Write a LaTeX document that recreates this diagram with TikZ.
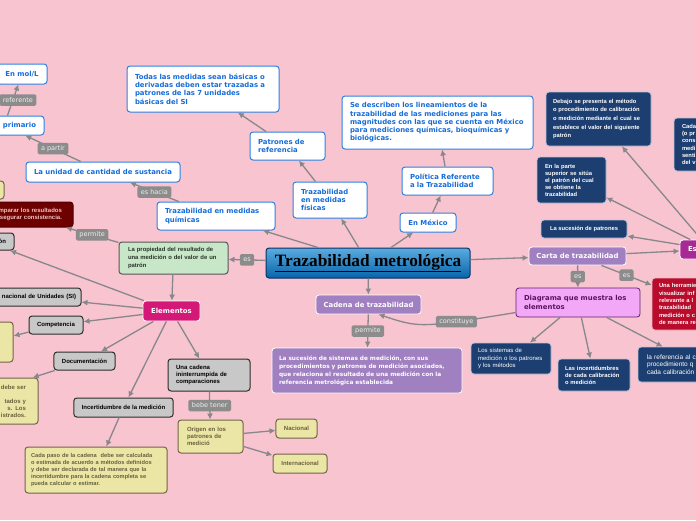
\documentclass[tikz,border=0pt]{standalone}
\usepackage{fontspec}
\setmainfont{DejaVu Sans}
\newfontfamily\verd{DejaVu Sans}
\newfontfamily\arl{Liberation Sans}
\newfontfamily\tms{Liberation Serif}
\usepackage{xcolor}
\usepackage{tikz}
\usetikzlibrary{arrows.meta}
\hyphenpenalty=10000
\exhyphenpenalty=10000
\definecolor{pinkbg}{RGB}{248,196,208}
\definecolor{ideablue}{RGB}{22,108,218}
\definecolor{ideaborder}{RGB}{45,128,225}
\definecolor{lblgrey}{RGB}{140,140,140}
\definecolor{lbltext}{RGB}{238,238,238}
\definecolor{linegrey}{RGB}{135,135,140}
\definecolor{navyfill}{RGB}{28,62,112}
\definecolor{navyline}{RGB}{185,195,215}
\definecolor{greyfill}{RGB}{200,200,200}
\definecolor{boxline}{RGB}{45,45,45}
\definecolor{yelfill}{RGB}{236,230,166}
\definecolor{yelline}{RGB}{112,102,72}
\definecolor{yeltext}{RGB}{105,96,62}
\definecolor{topicpurple}{RGB}{160,128,192}
\definecolor{elemmag}{RGB}{212,24,120}
\definecolor{esmag}{RGB}{168,40,150}
\definecolor{greenfill}{RGB}{200,230,200}
\definecolor{greentext}{RGB}{40,52,40}
\definecolor{darkred}{RGB}{110,0,0}
\definecolor{darkredtext}{RGB}{240,196,196}
\definecolor{brightred}{RGB}{185,12,45}
\definecolor{diagfill}{RGB}{242,168,246}
\definecolor{diagline}{RGB}{100,30,110}
\definecolor{diagtext}{RGB}{90,20,100}
\definecolor{centretop}{RGB}{90,172,225}
\definecolor{centrebot}{RGB}{8,100,168}
\definecolor{centreline}{RGB}{10,50,100}

\begin{document}
\begin{tikzpicture}[x=1pt, y=-1pt,
    idea/.style={rectangle, rounded corners=3pt, draw=ideaborder, line width=1pt, fill=white, text=ideablue, font=\verd\bfseries\fontsize{6.9}{8.3}\selectfont, align=left, inner xsep=8pt, inner ysep=2pt},
    topic/.style={rectangle, rounded corners=3pt, draw=white, line width=0.8pt, fill=topicpurple, text=white, font=\verd\bfseries\fontsize{6.9}{8.3}\selectfont, align=left, inner xsep=7pt, inner ysep=2pt},
    magbox/.style={topic, fill=elemmag},
    diagbox/.style={topic, draw=diagline, fill=diagfill, text=diagtext, inner xsep=8pt},
    greybox/.style={rectangle, rounded corners=3pt, draw=boxline, line width=1pt, fill=greyfill, text=black, font=\arl\bfseries\fontsize{6}{7}\selectfont, align=left, inner xsep=8pt, inner ysep=2pt},
    greenbox/.style={greybox, draw=boxline!80, fill=greenfill, text=greentext, font=\arl\bfseries\fontsize{5.9}{7.7}\selectfont, inner xsep=9pt},
    yellowbox/.style={greybox, draw=yelline, fill=yelfill, text=yeltext},
    navybox/.style={rectangle, rounded corners=3pt, draw=navyline, line width=0.8pt, fill=navyfill, text=white, font=\arl\bfseries\fontsize{5.8}{7}\selectfont, align=left, inner xsep=8pt, inner ysep=2pt},
    redbox/.style={navybox, draw=white!70!brightred, fill=brightred, text=white!88!pink},
    lbl/.style={rectangle, rounded corners=1.5pt, fill=lblgrey, text=lbltext, font=\verd\fontsize{6.5}{7}\selectfont, inner xsep=3.5pt, inner ysep=1pt, minimum height=11.5pt},
    arrow/.style={-{Latex[length=6pt,width=6pt]}, line width=1.3pt, linegrey}
]
\useasboundingbox (0,0) rectangle (696,520);
\clip (0,0) rectangle (696,520);
\fill[pinkbg] (0,0) rectangle (696,520);

% Central topic
\node[rectangle, rounded corners=3pt, draw=centreline, line width=1pt, top color=centretop, bottom color=centrebot, minimum width=204pt, minimum height=30pt, inner sep=2pt, font=\tms\bfseries\fontsize{17.3}{19}\selectfont] (centro) at (368,263) {\underline{Trazabilidad metrológica}};

% Upper branch
\node[idea, minimum width=50pt, minimum height=20pt] (mol) at (22,74) {En mol/L};
\node[idea, text width=64pt, align=right, minimum height=19pt] (primario) at (4,125.5) {primario};
\node[idea, minimum width=154pt, minimum height=20pt] (unidad) at (103,172) {La unidad de cantidad de sustancia};
\node[idea, text width=102pt, minimum height=28pt] (quimicas) at (216,216) {Trazabilidad en medidas\\químicas};
\node[idea, text width=136pt, minimum height=46pt] (todas) at (203,89) {Todas las medidas sean básicas o\\derivadas deben estar trazadas a\\patrones de las 7 unidades\\básicas del SI};
\node[idea, text width=59pt, minimum height=28pt] (patrones) at (287.5,146) {Patrones de\\referencia};
\node[idea, text width=58pt, minimum height=36pt] (fisicas) at (330,200) {Trazabilidad\\en medidas\\físicas};
\node[idea, text width=175pt, minimum height=53pt] (describen) at (437.5,122.5) {Se describen los lineamientos de la\\trazabilidad de las mediciones para las\\magnitudes con las que se cuenta en México\\para mediciones químicas, bioquímicas y\\biológicas.};
\node[idea, text width=75pt, minimum height=28pt] (politica) at (447.5,181) {Política Referente\\a la Trazabilidad};
\node[idea, minimum width=56pt, minimum height=19pt] (mexico) at (428,222.5) {En México};

% Left branch
\node[greenbox, text width=91pt, minimum height=32pt] (prop) at (173.5,258) {La propiedad del resultado de\\una medición o del valor de un\\patrón};
\node[greybox, draw=darkred!70!black, fill=darkred, text=darkredtext, text width=84pt, inner xsep=11pt, align=right, minimum height=25pt] (comparar) at (20,214.5) {mparar los resultados\\segurar consistencia.};
\node[yellowbox, minimum width=44pt, minimum height=18pt] (ysup) at (-18,190) {};
\node[greybox, text width=40pt, align=right, minimum height=17pt] (calib) at (-14,241.5) {ón};
\node[greybox, text width=92pt, inner xsep=5pt, align=right, minimum height=18pt] (si) at (30,297) {nacional de Unidades (SI)};
\node[greybox, minimum width=54pt, minimum height=18pt] (compet) at (56,325) {Competencia};
\node[yellowbox, minimum width=46pt, minimum height=40pt] (ycomp) at (-10,342) {};
\node[magbox, minimum width=57pt, minimum height=20pt] (elementos) at (171.5,311) {Elementos};
\node[greybox, minimum width=61pt, minimum height=18pt] (doc) at (84.5,361) {Documentación};
\node[yellowbox, text width=134pt, inner xsep=12pt, align=right, minimum height=46pt] (ydoc) at (-41,401) {debe ser\\[7pt]tados y\\s. Los\\istrados.};
\node[greybox, minimum width=99pt, minimum height=19pt] (incert) at (123.5,407.5) {Incertidumbre de la medición};
\node[yellowbox, text width=130pt, inner xsep=6pt, minimum height=46pt, font=\arl\bfseries\fontsize{5.7}{7}\selectfont] (cadapaso) at (96,470) {Cada paso de la cadena\ \ debe ser calculada\\o estimada de acuerdo a métodos definidos\\y debe ser declarada de tal manera que la\\incertidumbre para la cadena completa se\\pueda calcular o estimar.};
\node[greybox, text width=66pt, minimum height=32pt] (unacadena) at (209,375) {Una cadena\\ininterrumpida de\\comparaciones};
\node[yellowbox, text width=47pt, inner xsep=9pt, minimum height=33pt] (origen) at (210.5,436.5) {Origen en los\\patrones de\\medició};
\node[yellowbox, minimum width=41pt, minimum height=19pt] (nacional) at (296.5,428.5) {Nacional};
\node[yellowbox, minimum width=54pt, minimum height=19pt] (internacional) at (300,463.5) {Internacional};

% Chain
\node[topic, minimum width=105pt, minimum height=19pt] (cadtraz) at (368.5,304.5) {Cadena de trazabilidad};
\node[topic, text width=176pt, minimum height=45pt, font=\verd\bfseries\fontsize{5.8}{8}\selectfont] (sucesion) at (367,370.5) {La sucesión de sistemas de medición, con sus\\procedimientos y patrones de medición asociados,\\que relaciona el resultado de una medición con la\\referencia metrológica establecida};

% Right branch
\node[topic, minimum width=97pt, minimum height=18pt] (carta) at (577.5,256) {Carta de trazabilidad};
\node[diagbox, text width=108pt, minimum height=29pt] (diagrama) at (578,302.5) {Diagrama que muestra los\\elementos};
\node[magbox, fill=esmag, text width=44pt, inner xsep=8pt, minimum height=19pt] (estr) at (710,249.5) {Es};
\node[redbox, text width=82pt, inner xsep=7pt, minimum height=52pt, font=\arl\bfseries\fontsize{5.8}{7.3}\selectfont] (rojo) at (700,304) {Una herramie\\visualizar inf\\relevante a l\\trazabilidad\\medición o c\\de manera re};
\node[navybox, minimum width=86pt, minimum height=18pt] (sucpat) at (584,229) {La sucesión de patrones};
\node[navybox, text width=53pt, minimum height=46pt] (parte) at (571.5,180) {En la parte\\superior se sitúa\\el patrón del cual\\se obtiene la\\trazabilidad};
\node[navybox, text width=91pt, inner xsep=7pt, minimum height=54pt, font=\arl\bfseries\fontsize{5.8}{8.6}\selectfont] (debajo) at (598.5,119) {Debajo se presenta el método\\o procedimiento de calibración\\o medición mediante el cual se\\establece el valor del siguiente\\patrón};
\node[navybox, text width=96pt, minimum height=53pt, font=\arl\bfseries\fontsize{5.8}{7.2}\selectfont] (cadatr) at (730,144.5) {Cada\\(o pr\\cons\\medi\\senti\\del v};
\node[navybox, text width=66pt, inner xsep=7pt, minimum height=31pt, font=\arl\fontsize{6}{7.2}\selectfont] (sistemas) at (511,358.5) {Los sistemas de\\medición o los patrones\\y los métodos};
\node[navybox, text width=58pt, inner xsep=7pt, minimum height=32pt] (incerts) at (594,375) {Las incertidumbres\\de cada calibración\\o medición};
\node[navybox, text width=100pt, inner xsep=9pt, minimum height=35pt, font=\arl\fontsize{6.5}{7.5}\selectfont] (referencia) at (697,364.5) {la referencia al c\\procedimiento q\\cada calibración};

% Arrows
\draw[arrow] (primario) -- node[lbl, xshift=5pt] (lreferente) {referente} (mol);
\draw[arrow] (unidad) -- node[lbl] (lapartir) {a partir} (primario);
\draw[arrow] (quimicas) -- node[lbl] (leshacia) {es hacia} (unidad);
\foreach \tgt in {quimicas, fisicas, mexico, cadtraz, carta}
    \draw[arrow] (centro) -- (\tgt);
\draw[arrow] (fisicas) -- (patrones);
\draw[arrow] (patrones) -- (todas);
\draw[arrow] (mexico) -- (politica);
\draw[arrow] (politica) -- (describen);

\draw[arrow] (centro) -- node[lbl] (les) {es} (prop);
\draw[arrow] (prop) -- node[lbl] (lpermite) {permite} (comparar);
\draw[arrow] (prop) -- (elementos);
\foreach \tgt in {calib, si, compet, doc, incert, unacadena}
    \draw[arrow] (elementos) -- (\tgt);
\draw[arrow] (compet) -- (ycomp);
\draw[arrow] (doc) -- (ydoc);
\draw[arrow] (incert) -- (cadapaso);
\draw[arrow] (unacadena) -- node[lbl] (lbebe) {bebe tener} (origen);
\foreach \tgt in {nacional, internacional}
    \draw[arrow] (origen) -- (\tgt);

\draw[arrow] (cadtraz) -- node[lbl] (lpermite2) {permite} (sucesion);
\draw[arrow] (diagrama) .. controls (420,328) .. ([xshift=10pt]cadtraz.south) node[lbl, pos=0.27] (lconst) {constituye};

\draw[arrow] (carta) -- node[lbl] (lescarta) {es} (diagrama);
\draw[arrow] (carta) -- node[lbl] (lesrojo) {es} (rojo);
\draw[arrow] (carta) -- (estr);
\foreach \tgt in {sucpat, parte, debajo}
    \draw[arrow] (estr) -- (\tgt);
\foreach \tgt in {sistemas, incerts, referencia}
    \draw[arrow] (diagrama) -- (\tgt);

\end{tikzpicture}
\end{document}
